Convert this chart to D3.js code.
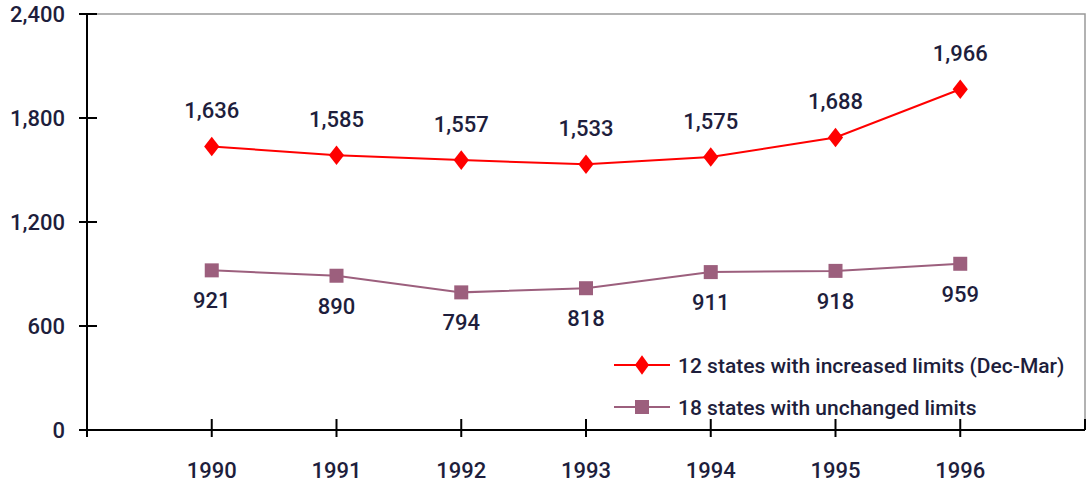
<!DOCTYPE html>
<html>
<head>
<script src="https://d3js.org/d3.v7.min.js"></script>
<style>
  body { margin: 0; background: #fff; }
  text { font-family: Roboto, "Noto Sans", sans-serif; font-weight: 500; fill: #1e1e3c; }
</style>
</head>
<body>
<svg id="chart" width="1087" height="484"></svg>
<script>
// data
const years = ["1990", "1991", "1992", "1993", "1994", "1995", "1996"];
const increased = [1636, 1585, 1557, 1533, 1575, 1688, 1966];
const unchanged = [921, 890, 794, 818, 911, 918, 959];
const yTicks = [0, 600, 1200, 1800, 2400];
const seriesNames = ["12 states with increased limits (Dec-Mar)", "18 states with unchanged limits"];

const svg = d3.select("#chart");
const mLeft = 87, mRight = 1085, mTop = 14, mBottom = 430;
const fmt = d3.format(",");

// axis runs one step before 1990 and one step after 1996
const x = d3.scaleLinear([-1, years.length], [mLeft, mRight]);
const y = d3.scaleLinear([0, 2400], [mBottom, mTop]);

// top and right border
svg.append("path")
  .attr("d", `M${mLeft},${mTop}H${mRight}V${mBottom}`)
  .attr("fill", "none").attr("stroke", "#999").attr("stroke-width", 1.5);

// y axis
const yAxis = svg.append("g");
yAxis.append("line").attr("x1", mLeft).attr("x2", mLeft).attr("y1", mTop).attr("y2", mBottom)
  .attr("stroke", "#000").attr("stroke-width", 2);
yAxis.selectAll("line.tick").data(yTicks).join("line").attr("class", "tick")
  .attr("x1", mLeft - 8).attr("x2", mLeft + 10)
  .attr("y1", d => y(d)).attr("y2", d => y(d))
  .attr("stroke", "#000").attr("stroke-width", 2);
yAxis.selectAll("text").data(yTicks).join("text")
  .attr("x", 65).attr("y", d => y(d)).attr("dy", "0.36em")
  .attr("text-anchor", "end").attr("font-size", 22)
  .text(d => fmt(d));

// x axis
const xAxis = svg.append("g");
xAxis.append("line").attr("x1", mLeft).attr("x2", mRight).attr("y1", mBottom).attr("y2", mBottom)
  .attr("stroke", "#000").attr("stroke-width", 2);
const xTickIdx = d3.range(-1, years.length + 1);
xAxis.selectAll("line.tick").data(xTickIdx).join("line").attr("class", "tick")
  .attr("x1", d => x(d)).attr("x2", d => x(d))
  .attr("y1", d => d === -1 ? mBottom : mBottom - 11)
  .attr("y2", d => d === years.length ? mBottom : mBottom + 7)
  .attr("stroke", "#000").attr("stroke-width", 2);
xAxis.selectAll("text").data(years).join("text")
  .attr("x", (d, i) => x(i)).attr("y", 478)
  .attr("text-anchor", "middle").attr("font-size", 22)
  .text(d => d);

const line = d3.line().x((d, i) => x(i)).y(d => y(d));

// increased limits series (red diamonds)
svg.append("path").datum(increased).attr("d", line)
  .attr("fill", "none").attr("stroke", "#ff0000").attr("stroke-width", 2);
const diamond = d3.symbol().type(d3.symbolDiamond).size(110);
svg.selectAll("path.dia").data(increased).join("path").attr("class", "dia")
  .attr("d", diamond)
  .attr("transform", (d, i) => `translate(${x(i)},${y(d)}) scale(1.35,1)`)
  .attr("fill", "#ff0000");
svg.selectAll("text.lblA").data(increased).join("text").attr("class", "lblA")
  .attr("x", (d, i) => x(i)).attr("y", d => y(d) - 28)
  .attr("text-anchor", "middle").attr("font-size", 22)
  .text(d => fmt(d));

// unchanged limits series (mauve squares)
const mauve = "#9c5f7d";
svg.append("path").datum(unchanged).attr("d", line)
  .attr("fill", "none").attr("stroke", mauve).attr("stroke-width", 2);
svg.selectAll("rect.sq").data(unchanged).join("rect").attr("class", "sq")
  .attr("x", (d, i) => x(i) - 7).attr("y", d => y(d) - 7)
  .attr("width", 14).attr("height", 14).attr("fill", mauve);
svg.selectAll("text.lblB").data(unchanged).join("text").attr("class", "lblB")
  .attr("x", (d, i) => x(i)).attr("y", d => y(d) + 38)
  .attr("text-anchor", "middle").attr("font-size", 22)
  .text(d => fmt(d));

// legend
const legend = svg.append("g");
const legY = [365, 407];
const legColors = ["#ff0000", mauve];
legY.forEach((ly, i) => {
  legend.append("line").attr("x1", 614).attr("x2", 670).attr("y1", ly).attr("y2", ly)
    .attr("stroke", legColors[i]).attr("stroke-width", 2);
  if (i === 0) {
    legend.append("path").attr("d", diamond)
      .attr("transform", `translate(642,${ly}) scale(1.25,1)`).attr("fill", legColors[i]);
  } else {
    legend.append("rect").attr("x", 635).attr("y", ly - 7).attr("width", 14).attr("height", 14)
      .attr("fill", legColors[i]);
  }
  legend.append("text").attr("x", 678).attr("y", ly).attr("dy", "0.36em")
    .attr("font-size", 21).text(seriesNames[i]);
});
</script>
</body>
</html>
